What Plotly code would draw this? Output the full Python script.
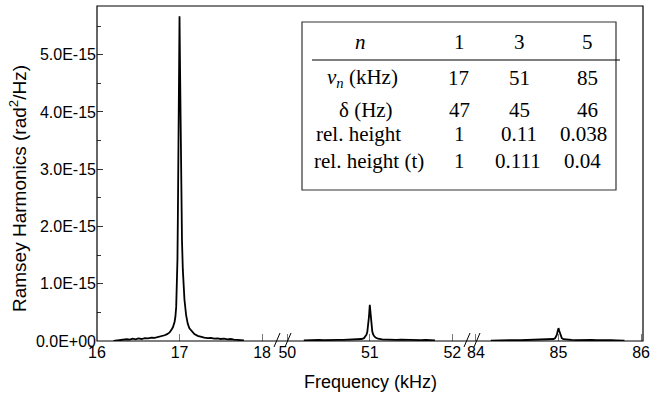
import plotly.graph_objects as go

# ---------------- data (frequency in kHz, PSD in 1e-15 rad^2/Hz) ----------------
seg1_freq = [16.20, 16.25, 16.28, 16.32, 16.36, 16.40, 16.43, 16.47, 16.50, 16.54, 16.58,
             16.62, 16.66, 16.70, 16.74, 16.78, 16.82, 16.85, 16.88, 16.90, 16.92, 16.94,
             16.95, 16.96, 16.97, 16.975, 16.98, 16.985, 16.99, 16.995, 17.000, 17.005,
             17.01, 17.015, 17.02, 17.025, 17.03, 17.04, 17.05, 17.06, 17.08, 17.10,
             17.12, 17.15, 17.18, 17.22, 17.26, 17.30, 17.34, 17.38, 17.42, 17.46,
             17.50, 17.54, 17.58, 17.62, 17.66, 17.70, 17.74, 17.78]
seg1_psd = [0.000, 0.010, 0.020, 0.015, 0.030, 0.025, 0.040, 0.030, 0.045, 0.035, 0.050,
            0.045, 0.060, 0.055, 0.070, 0.080, 0.100, 0.120, 0.150, 0.190, 0.240, 0.330,
            0.420, 0.600, 1.000, 1.420, 2.160, 2.900, 4.000, 4.950, 5.670, 4.950,
            4.000, 3.200, 2.600, 2.100, 1.750, 1.250, 0.950, 0.720, 0.450, 0.300,
            0.220, 0.160, 0.120, 0.090, 0.070, 0.060, 0.050, 0.055, 0.040, 0.045,
            0.035, 0.040, 0.030, 0.035, 0.025, 0.020, 0.015, 0.010]

seg2_freq = [50.20, 50.26, 50.32, 50.38, 50.44, 50.50, 50.56, 50.62, 50.68, 50.74, 50.80,
             50.85, 50.90, 50.93, 50.95, 50.96, 50.97, 50.98, 50.99, 51.00, 51.01,
             51.02, 51.03, 51.04, 51.05, 51.07, 51.10, 51.15, 51.20, 51.26, 51.32,
             51.38, 51.44, 51.50, 51.56, 51.62, 51.68, 51.74, 51.79]
seg2_psd = [0.010, 0.015, 0.012, 0.018, 0.014, 0.020, 0.016, 0.020, 0.018, 0.022, 0.024,
            0.026, 0.035, 0.050, 0.080, 0.110, 0.160, 0.250, 0.420, 0.630, 0.440,
            0.270, 0.170, 0.120, 0.090, 0.060, 0.040, 0.028, 0.022, 0.025, 0.018,
            0.024, 0.020, 0.016, 0.022, 0.015, 0.018, 0.012, 0.010]

seg3_freq = [84.18, 84.24, 84.30, 84.36, 84.42, 84.48, 84.54, 84.60, 84.66, 84.72, 84.78,
             84.84, 84.90, 84.94, 84.96, 84.97, 84.98, 84.99, 85.00, 85.01, 85.02,
             85.03, 85.04, 85.06, 85.10, 85.16, 85.22, 85.28, 85.34, 85.40, 85.46,
             85.52, 85.58, 85.64, 85.70, 85.76, 85.80]
seg3_psd = [0.008, 0.012, 0.010, 0.014, 0.012, 0.015, 0.013, 0.016, 0.014, 0.017, 0.016,
            0.018, 0.022, 0.035, 0.050, 0.075, 0.110, 0.170, 0.225, 0.175, 0.115,
            0.075, 0.050, 0.032, 0.022, 0.018, 0.016, 0.020, 0.015, 0.018, 0.014,
            0.017, 0.013, 0.016, 0.012, 0.010, 0.008]

x_ticks_1 = [16, 17, 18]
x_ticks_2 = [50, 51, 52]
x_ticks_3 = [84, 85, 86]
y_tick_vals = [0, 1e-15, 2e-15, 3e-15, 4e-15, 5e-15]
y_tick_text = ["0.0E+00", "1.0E-15", "2.0E-15", "3.0E-15", "4.0E-15", "5.0E-15"]

table_header = ["<i>n</i>", "1", "3", "5"]
table_rows = [
    ["<i>ν</i><sub><i>n</i></sub> (kHz)", "17", "51", "85"],
    ["δ (Hz)", "47", "45", "46"],
    ["rel. height", "1", "0.11", "0.038"],
    ["rel. height (t)", "1", "0.111", "0.04"],
]

SCALE = 1e-15

# ---------------- geometry helpers (pixel -> paper) ----------------
W, H = 663, 394
L, R, T, B = 97, 643, 6, 341
PW, PH = R - L, B - T


def px(x):
    return (x - L) / PW


def py(y):
    return (B - y) / PH


fig = go.Figure()
line_style = dict(color="black", width=1.8)
fig.add_trace(go.Scatter(x=seg1_freq, y=[v * SCALE for v in seg1_psd], mode="lines",
                         line=line_style, xaxis="x", yaxis="y", showlegend=False))
fig.add_trace(go.Scatter(x=seg2_freq, y=[v * SCALE for v in seg2_psd], mode="lines",
                         line=line_style, xaxis="x2", yaxis="y", showlegend=False))
fig.add_trace(go.Scatter(x=seg3_freq, y=[v * SCALE for v in seg3_psd], mode="lines",
                         line=line_style, xaxis="x3", yaxis="y", showlegend=False))

tick_font = dict(family="Liberation Sans, Arial", size=16, color="black")
xcommon = dict(showgrid=False, zeroline=False, showline=False, ticks="inside", ticklen=7,
               tickcolor="#777", tickwidth=1, tickfont=tick_font, anchor="y")

d1 = px(282)
d2 = px(465)
fig.update_layout(
    width=W, height=H,
    margin=dict(l=L, r=W - R, t=T, b=H - B, pad=0),
    paper_bgcolor="white", plot_bgcolor="white",
    xaxis=dict(domain=[0, d1], range=[16, 18.242], tickvals=x_ticks_1, **xcommon),
    xaxis2=dict(domain=[d1, d2], range=[49.936, 52.154], tickvals=x_ticks_2, **xcommon),
    xaxis3=dict(domain=[d2, 1], range=[83.867, 86.024], tickvals=x_ticks_3, **xcommon),
    yaxis=dict(range=[0, 5.85e-15], tickvals=y_tick_vals, ticktext=y_tick_text,
               showgrid=False, zeroline=False, showline=False, ticks="inside",
               ticklen=6, tickcolor="#333", tickfont=tick_font, anchor="x",
               minor=dict(tickvals=[0.5e-15, 1.5e-15, 2.5e-15, 3.5e-15, 4.5e-15, 5.5e-15],
                          ticks="inside", ticklen=4, tickcolor="#333")),
)

shapes = []
# frame
shapes.append(dict(type="rect", xref="paper", yref="paper", x0=0, x1=1, y0=0, y1=1,
                   line=dict(color="black", width=1.2), layer="above"))
# axis break marks
for bx in [277, 288, 467, 477]:
    shapes.append(dict(type="line", xref="paper", yref="paper",
                       x0=px(bx - 3), y0=py(347), x1=px(bx + 3), y1=py(333),
                       line=dict(color="black", width=1)))
# table box and header rule
shapes.append(dict(type="rect", xref="paper", yref="paper",
                   x0=px(302), x1=px(616), y0=py(190), y1=py(22),
                   line=dict(color="#333", width=1.2), fillcolor="white", layer="above"))
shapes.append(dict(type="line", xref="paper", yref="paper",
                   x0=px(312), x1=px(620), y0=py(60), y1=py(60),
                   line=dict(color="black", width=1.2)))
fig.update_layout(shapes=shapes)

annotations = []
serif = dict(family="Liberation Serif, Times New Roman", size=21, color="black")
col_x = [[360, 459, 519, 587], [362, 458, 519, 587], [366, 459, 519, 587],
         [358, 459, 519, 583], [369, 459, 518, 582]]
row_y = [42, 78, 110, 134, 161]
all_rows = [table_header] + table_rows
for r, row in enumerate(all_rows):
    for c, txt in enumerate(row):
        annotations.append(dict(text=txt, xref="paper", yref="paper",
                                x=px(col_x[r][c]), y=py(row_y[r]),
                                xanchor="center", yanchor="middle",
                                showarrow=False, font=serif))

annotations.append(dict(text="Frequency (kHz)", xref="paper", yref="paper",
                        x=0.5, y=py(382), xanchor="center", yanchor="middle",
                        showarrow=False,
                        font=dict(family="Liberation Sans, Arial", size=18, color="black")))
annotations.append(dict(text="Ramsey Harmonics (rad<sup>2</sup>/Hz)", xref="paper", yref="paper",
                        x=px(18), y=py(188), xanchor="center", yanchor="middle",
                        textangle=-90, showarrow=False,
                        font=dict(family="Liberation Sans, Arial", size=19, color="black")))
fig.update_layout(annotations=annotations)

fig.write_html("out.html", config={"displayModeBar": False},
               post_script="document.body.style.margin='0';document.body.style.overflow='hidden';")
